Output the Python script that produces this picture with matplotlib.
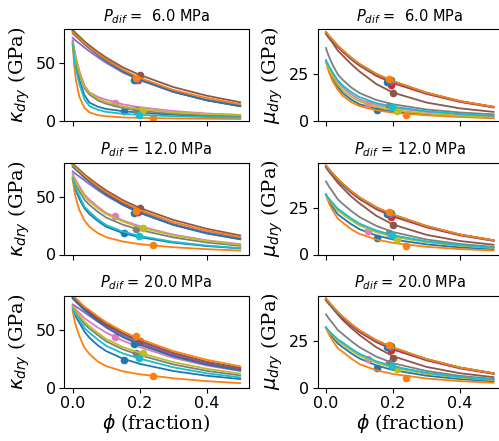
import matplotlib
matplotlib.use("Agg")
import matplotlib.pyplot as plt

# porosity grid at which the model curves were read
phi_grid = [0, 0.005, 0.01, 0.02, 0.035, 0.05, 0.075, 0.1, 0.15, 0.2, 0.3, 0.4, 0.5]

pressures = [6.0, 12.0, 20.0]

# measured porosity of each sample (12 samples, default colour cycle order)
phi_samples = [0.152, 0.239, 0.193, 0.195, 0.19, 0.2, 0.125, 0.188, 0.211, 0.198, 0.182, 0.188]

# ---- dry bulk modulus curves (GPa) ----
kdry_6 = [
    [67, 56, 48, 35.5, 22.5, 16, 12.5, 10.5, 8.6, 7.3, 5.5, 4.2, 3.2],
    [66, 47, 35, 21, 11.5, 7.5, 5.2, 4.2, 3.2, 2.8, 2.3, 2.0, 1.8],
    [79, 77.5, 76, 73.2, 69, 65, 59, 53.5, 44, 36.5, 25.5, 18, 12.8],
    [78, 76.5, 75, 72.3, 68.2, 64.3, 58.5, 53, 43.5, 36, 25.5, 18.3, 13.3],
    [72, 70.7, 69.5, 67.3, 63.7, 60.5, 55.3, 50.5, 42, 35.5, 25.3, 18.3, 13.5],
    [78, 76.6, 75.3, 72.8, 68.8, 65.5, 60, 55, 46.5, 40, 29.5, 22, 16.3],
    [70, 62, 55, 43.5, 31, 25, 21, 18.5, 14.5, 12, 8.7, 6.6, 5.3],
    [69, 60, 52, 40.5, 28.5, 23, 18, 15, 11.3, 8.9, 6.4, 5, 4.2],
    [68, 60, 53, 42, 30, 24.5, 19.5, 16.5, 12.8, 10.3, 7.5, 6.2, 5.4],
    [67, 54, 45, 32, 19, 13, 9.8, 8, 6.3, 5.4, 4.2, 3.5, 3.0],
    [76, 74.6, 73.3, 70.7, 66.5, 63, 57.3, 52, 43, 36, 25.5, 18, 13],
    [77, 75.6, 74.3, 71.7, 67.5, 64, 58.5, 53.3, 44.5, 37.5, 27, 20, 14.7],
]
kdry_12 = [
    [65, 59.5, 55, 48, 40, 35, 29, 24, 18.5, 15, 10.3, 7.3, 5.3],
    [65, 55, 48, 38.5, 29.5, 24, 18.5, 15, 11.2, 9, 6.3, 4.6, 3.4],
    [79, 77.5, 76, 73.5, 69.3, 65.5, 59.5, 54, 44.7, 37.2, 26.2, 18.5, 13.3],
    [78, 76.5, 75, 72.5, 68.3, 64.5, 58.7, 53.3, 44, 36.7, 26, 18.7, 13.7],
    [72, 70.7, 69.5, 67.5, 64.2, 61, 55.8, 51, 42.8, 36.3, 26.2, 19.2, 14.2],
    [78, 76.7, 75.5, 73, 69, 66, 60.5, 55.5, 47, 40.3, 30, 22.3, 16.5],
    [70, 66.7, 64, 59, 52, 47.5, 41.3, 36, 29.5, 24.5, 17.2, 12.3, 9],
    [67, 63.2, 60, 54.7, 47.5, 43, 37, 32, 25.8, 21.3, 14.8, 10.4, 7.5],
    [68, 64.8, 62, 57.3, 50.5, 46, 40, 35, 28.5, 23.5, 16.5, 11.8, 8.5],
    [66, 61.3, 57, 50.5, 41.5, 37, 30.5, 25.5, 19.8, 16, 11, 7.7, 5.5],
    [76, 74.6, 73.3, 70.7, 66.5, 63, 57.3, 52, 43, 36, 25.6, 18.2, 13.2],
    [77.5, 76.1, 74.8, 72.3, 68.3, 64.8, 59, 54, 45.5, 38.5, 28, 20.7, 15.2],
]
kdry_20 = [
    [68, 64.3, 61, 56, 48.5, 43, 36.5, 31.5, 25, 20.5, 14.3, 10.2, 7.3],
    [66, 59, 53, 44.5, 34.5, 29, 22.5, 18.5, 14, 11.5, 8, 5.5, 3.8],
    [80, 78.2, 76.5, 73.5, 69, 65.5, 59.5, 54.5, 46, 39.5, 29, 21.7, 16.5],
    [79, 77.2, 75.5, 72.5, 68, 64.5, 58.5, 53.5, 45, 38.5, 28, 20.5, 15.3],
    [72, 71, 70, 68.2, 65, 62, 57, 52.5, 45, 39, 29, 21.8, 16.5],
    [78, 76.7, 75.5, 73, 69, 66, 60.5, 55.5, 47, 40.5, 30, 22.3, 16.8],
    [71, 69.2, 67.5, 64.5, 60, 57, 52, 47.5, 40.5, 35, 25.7, 19, 14.3],
    [70, 67.3, 65, 61, 55, 51, 45.3, 40, 33, 28, 20, 14.4, 10.5],
    [70, 68, 66, 62.3, 57, 53, 47.3, 42, 35, 30, 22, 16.2, 12],
    [68, 65.3, 63, 58.6, 51.6, 47.5, 41.5, 36, 29.5, 25, 17.5, 12.3, 8.7],
    [77, 75.5, 74, 71.3, 67, 63.5, 57.5, 52, 43.5, 37, 27, 19.8, 14.7],
    [80, 78.5, 77, 74.3, 70, 67, 61.5, 56.5, 48.5, 42, 31.5, 24, 18.3],
]

# ---- dry shear modulus curves (GPa) ----
mudry_6 = [
    [32, 29, 26.5, 22.7, 18.3, 15, 11.5, 9, 6.5, 5.1, 3.4, 2.5, 1.9],
    [32, 28.5, 25.5, 21.3, 16.8, 13.5, 10.2, 8, 5.8, 4.5, 3.1, 2.2, 1.5],
    [47.5, 46.4, 45.3, 43.3, 40.3, 37.8, 33.9, 30.5, 25.2, 21.3, 15.2, 10.6, 7.6],
    [47, 45.8, 44.7, 42.7, 39.6, 37, 33, 29.6, 24.2, 20.3, 14.5, 10.2, 7.3],
    [47.5, 46.3, 45.2, 43.2, 40.1, 37.6, 33.7, 30.3, 25, 21.1, 15, 10.6, 7.6],
    [46.5, 45.2, 44, 41.7, 37.7, 35, 30.5, 26.5, 19.8, 15.2, 9.9, 6.8, 4.9],
    [32.5, 30.3, 28.5, 25.2, 20.7, 18, 14.3, 11.5, 8.7, 7, 4.9, 3.6, 2.7],
    [39, 36.3, 34, 30, 25, 22, 18, 15, 11.3, 9, 6.2, 4.6, 3.6],
    [32, 29.5, 27.5, 24, 19.5, 16.5, 13, 10.5, 7.6, 5.9, 4, 2.9, 2.2],
    [32.5, 30.7, 29, 26, 21.8, 19, 15.5, 12.8, 9.6, 7.7, 5.3, 3.8, 2.8],
    [47, 45.9, 44.8, 42.9, 39.9, 37.4, 33.5, 30.2, 24.9, 21, 15, 10.6, 7.5],
    [47.5, 46.4, 45.3, 43.3, 40.3, 37.8, 33.9, 30.5, 25.2, 21.3, 15.2, 10.7, 7.6],
]
mudry_12 = [
    [32, 29.8, 28, 25.3, 21.5, 19.5, 16.2, 13.5, 10.2, 8, 5.4, 3.8, 2.8],
    [32, 29.2, 27, 23.5, 19.3, 17, 13.5, 11, 8, 6.2, 4.1, 2.9, 2.1],
    [47.5, 46.4, 45.3, 43.3, 40.3, 37.8, 33.9, 30.5, 25.2, 21.3, 15.2, 10.6, 7.6],
    [47, 45.8, 44.7, 42.7, 39.6, 37, 33, 29.6, 24.2, 20.3, 14.5, 10.2, 7.3],
    [47.5, 46.3, 45.2, 43.2, 40.1, 37.6, 33.7, 30.3, 25, 21.1, 15, 10.6, 7.6],
    [46.5, 45.2, 44, 41.8, 38.3, 35.5, 31, 27.3, 20.7, 16, 10.5, 7.2, 5.2],
    [32, 30.6, 29.3, 27.2, 24, 22, 18.8, 16, 12.5, 10, 6.8, 4.9, 3.6],
    [39, 37.5, 36, 33.5, 29.5, 27, 23.3, 20, 15.3, 12, 8, 5.6, 4.1],
    [32, 30.4, 29, 26.7, 23.5, 21.5, 18.3, 15.5, 11.9, 9.5, 6.5, 4.7, 3.5],
    [32, 30.7, 29.5, 27.5, 24.5, 22.5, 19.3, 16.5, 12.8, 10.3, 7, 5, 3.7],
    [47, 45.9, 44.8, 42.9, 39.9, 37.4, 33.5, 30.2, 24.9, 21, 15, 10.6, 7.5],
    [47.5, 46.4, 45.3, 43.3, 40.3, 37.8, 33.9, 30.5, 25.2, 21.3, 15.2, 10.7, 7.6],
]
mudry_20 = [
    [32, 30.4, 29, 26.8, 23.5, 21.5, 18.3, 15.5, 11.8, 9.3, 6.3, 4.5, 3.3],
    [32, 29.8, 28, 25, 21, 19, 15.5, 12.5, 9.2, 7.2, 4.8, 3.4, 2.5],
    [47.5, 46.4, 45.3, 43.3, 40.3, 37.8, 33.9, 30.5, 25.2, 21.3, 15.2, 10.6, 7.6],
    [47, 45.8, 44.7, 42.7, 39.6, 37, 33, 29.6, 24.2, 20.3, 14.5, 10.2, 7.3],
    [47.5, 46.3, 45.2, 43.2, 40.1, 37.6, 33.7, 30.3, 25, 21.1, 15, 10.6, 7.6],
    [46.5, 45.4, 44.3, 42.2, 39, 36, 31.8, 28, 21.5, 16.7, 11, 7.6, 5.5],
    [32, 30.9, 29.8, 28, 25.2, 23.5, 20.3, 17.5, 13.7, 11, 7.6, 5.5, 4.1],
    [39, 37.7, 36.5, 34.3, 30.7, 28.5, 24.8, 21.5, 16.5, 13, 8.8, 6.2, 4.6],
    [32, 30.7, 29.5, 27.8, 24.8, 23, 19.8, 17, 13.2, 10.6, 7.3, 5.3, 4],
    [32, 31, 30, 28.3, 25.7, 24, 20.8, 18, 14, 11.3, 7.8, 5.6, 4.2],
    [47, 45.9, 44.8, 42.9, 39.9, 37.4, 33.5, 30.2, 24.9, 21, 15, 10.6, 7.5],
    [47.5, 46.4, 45.3, 43.3, 40.3, 37.8, 33.9, 30.5, 25.2, 21.3, 15.2, 10.7, 7.6],
]

# ---- measured sample values (GPa) ----
kdry_pts_6 = [8.6, 2.5, 37, 35.5, 36, 40, 16, 9.2, 9.8, 5.4, 36, 37.5]
kdry_pts_12 = [18.4, 8.4, 37.5, 36.5, 37, 40.2, 33.6, 22.1, 23, 16.1, 36, 38]
kdry_pts_20 = [24, 10.1, 40, 39, 39.5, 40.5, 43.4, 29.5, 29.8, 25.2, 38, 44.3]
mudry_pts_6 = [5.9, 3.0, 21.8, 19.1, 21.5, 14.8, 9.3, 8.0, 5.2, 7.7, 20.9, 22.3]
mudry_pts_12 = [9.0, 4.3, 22, 19.8, 21.8, 15.7, 12.6, 11.7, 8.1, 10.5, 21.4, 22.5]
mudry_pts_20 = [10.4, 5.0, 21.9, 20, 21.8, 15.7, 15.4, 13, 9.8, 11.3, 21.4, 22.5]

k_curves = [kdry_6, kdry_12, kdry_20]
mu_curves = [mudry_6, mudry_12, mudry_20]
k_pts = [kdry_pts_6, kdry_pts_12, kdry_pts_20]
mu_pts = [mudry_pts_6, mudry_pts_12, mudry_pts_20]

W, H = 499, 441
fig = plt.figure(figsize=(W / 100, H / 100), dpi=100)

col_x = [64.3, 317.6]
ax_w = 184.3
row_top = [29.3, 162.7, 295.7]
ax_h = 91.8

colors = plt.rcParams['axes.prop_cycle'].by_key()['color']

for r in range(3):
    for c in range(2):
        left = col_x[c] / W
        bottom = 1 - (row_top[r] + ax_h) / H
        ax = fig.add_axes([left, bottom, ax_w / W, ax_h / H])
        curves = k_curves[r] if c == 0 else mu_curves[r]
        pts = k_pts[r] if c == 0 else mu_pts[r]
        for i in range(len(curves)):
            col = colors[i % len(colors)]
            ax.plot(phi_grid, curves[i], color=col, lw=1.3)
            ax.plot([phi_samples[i]], [pts[i]], 'o', color=col, ms=4.5)
        ax.set_xlim(-0.025, 0.525)
        ax.set_xticks([0.0, 0.2, 0.4])
        if c == 0:
            ax.set_ylim(0, 79.5)
            ax.set_yticks([0, 50])
            ax.set_ylabel(r'$\kappa_{dry}$ (GPa)', fontsize=14, family='serif', labelpad=3)
        else:
            ax.set_ylim(0, 49)
            ax.set_yticks([0, 25])
            ax.set_ylabel(r'$\mu_{dry}$ (GPa)', fontsize=14, family='serif', labelpad=3)
        ax.tick_params(labelsize=11.5, pad=2.5)
        if r < 2:
            ax.set_xticklabels([])
        else:
            ax.set_xlabel(r'$\phi$ (fraction)', fontsize=13.5, family='serif', labelpad=1)
        ax.set_title(r'$P_{dif}$ = %4.1f MPa' % pressures[r], fontsize=10.5)

fig.savefig('out.png', dpi=100)
